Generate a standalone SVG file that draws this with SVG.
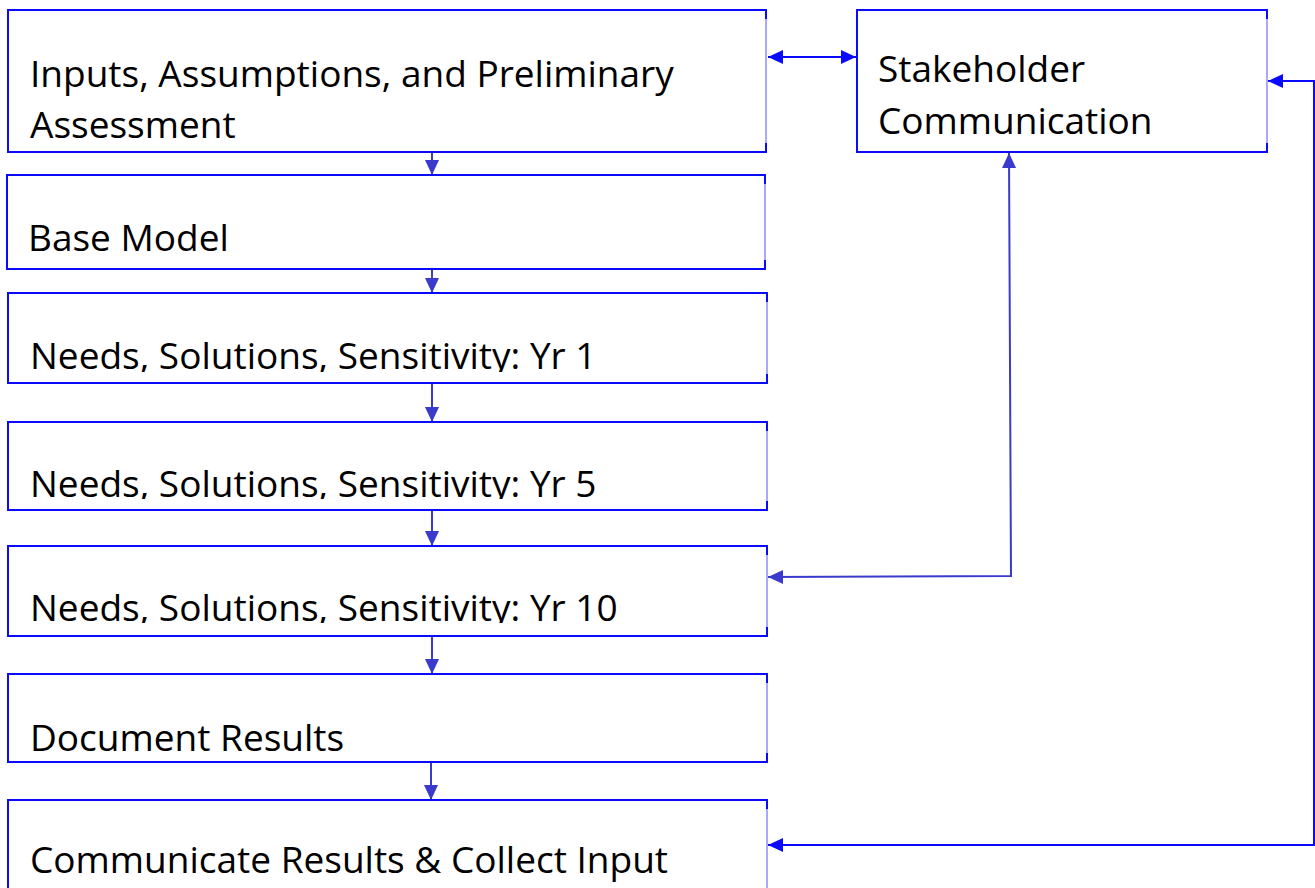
<svg xmlns="http://www.w3.org/2000/svg" width="1315" height="888" viewBox="0 0 1315 888">
<style>
.edge{fill:none;stroke:#0a0aff;stroke-width:2}
.redge{fill:none;stroke:#8c8cff;stroke-width:1.5}
.bg{fill:#ffffff}
.t{font-family:"Open Sans","Noto Sans",sans-serif;font-size:37px;fill:#000000}
.c1{fill:none;stroke:#3a3acc;stroke-width:2}
.c2{fill:none;stroke:#0a0aff;stroke-width:2}
</style>
<defs>
<marker id="ah1" markerUnits="userSpaceOnUse" markerWidth="18" markerHeight="18" viewBox="0 0 18 18" refX="16" refY="9" orient="auto-start-reverse">
<path d="M1,2 L16,9 L1,16 Z" fill="#3a3acc"/>
</marker>
<marker id="ah2" markerUnits="userSpaceOnUse" markerWidth="18" markerHeight="18" viewBox="0 0 18 18" refX="16" refY="9" orient="auto-start-reverse">
<path d="M1,2 L16,9 L1,16 Z" fill="#0a0aff"/>
</marker>
<clipPath id="cl3"><rect x="0" y="290" width="780" height="82"/></clipPath>
<clipPath id="cl4"><rect x="0" y="420" width="780" height="79"/></clipPath>
<clipPath id="cl5"><rect x="0" y="540" width="780" height="83"/></clipPath>
</defs>
<rect width="1315" height="888" fill="#ffffff"/>

<g id="connectors">
<line class="c1" x1="432" y1="153" x2="432" y2="175" marker-end="url(#ah1)"/>
<line class="c1" x1="432" y1="270" x2="432" y2="293" marker-end="url(#ah1)"/>
<line class="c1" x1="432" y1="384" x2="432" y2="422" marker-end="url(#ah1)"/>
<line class="c1" x1="432" y1="510" x2="432" y2="546" marker-end="url(#ah1)"/>
<line class="c1" x1="432" y1="636" x2="432" y2="674" marker-end="url(#ah1)"/>
<line class="c1" x1="431" y1="763" x2="431" y2="800" marker-end="url(#ah1)"/>
<line class="c2" x1="768" y1="57" x2="856" y2="57" marker-start="url(#ah2)" marker-end="url(#ah2)"/>
<polyline class="c1" points="768,577 1011,576 1009,153" marker-start="url(#ah1)" marker-end="url(#ah1)"/>
<polyline class="c2" points="768,845 1314,845 1314,81 1268,81" marker-start="url(#ah2)" marker-end="url(#ah2)"/>
</g>

<g id="n1">
<rect class="bg" x="8" y="10" width="758" height="142"/>
<line class="redge" x1="766" y1="10" x2="766" y2="152"/>
<path class="edge" d="M766,19 V10 H8 V152 H766 V143"/>
<text class="t" x="30" y="87">Inputs, Assumptions, and Preliminary</text>
<text class="t" x="30" y="138">Assessment</text>
</g>

<g id="n2">
<rect class="bg" x="7" y="175" width="758" height="94"/>
<line class="redge" x1="765" y1="175" x2="765" y2="269"/>
<path class="edge" d="M765,184 V175 H7 V269 H765 V260"/>
<text class="t" x="28" y="251">Base Model</text>
</g>

<g id="n3">
<rect class="bg" x="8" y="293" width="759" height="90"/>
<line class="redge" x1="767" y1="293" x2="767" y2="383"/>
<path class="edge" d="M767,302 V293 H8 V383 H767 V374"/>
<text class="t" x="30" y="369" clip-path="url(#cl3)">Needs, Solutions, Sensitivity: Yr 1</text>
</g>

<g id="n4">
<rect class="bg" x="8" y="422" width="759" height="88"/>
<line class="redge" x1="767" y1="422" x2="767" y2="510"/>
<path class="edge" d="M767,431 V422 H8 V510 H767 V501"/>
<text class="t" x="30" y="497" clip-path="url(#cl4)">Needs, Solutions, Sensitivity: Yr 5</text>
</g>

<g id="n5">
<rect class="bg" x="8" y="546" width="759" height="90"/>
<line class="redge" x1="767" y1="546" x2="767" y2="636"/>
<path class="edge" d="M767,555 V546 H8 V636 H767 V627"/>
<text class="t" x="30" y="621" clip-path="url(#cl5)">Needs, Solutions, Sensitivity: Yr 10</text>
</g>

<g id="n6">
<rect class="bg" x="8" y="674" width="759" height="88"/>
<line class="redge" x1="767" y1="674" x2="767" y2="762"/>
<path class="edge" d="M767,683 V674 H8 V762 H767 V753"/>
<text class="t" x="30" y="751">Document Results</text>
</g>

<g id="n7">
<rect class="bg" x="8" y="800" width="759" height="100"/>
<line class="redge" x1="767" y1="800" x2="767" y2="888"/>
<path class="edge" d="M767,809 V800 H8 V900"/>
<text class="t" x="30" y="873">Communicate Results &amp; Collect Input</text>
</g>

<g id="n8">
<rect class="bg" x="857" y="10" width="410" height="142"/>
<line class="redge" x1="1267" y1="10" x2="1267" y2="152"/>
<path class="edge" d="M1267,19 V10 H857 V152 H1267 V143"/>
<text class="t" x="878" y="82">Stakeholder</text>
<text class="t" x="878" y="134">Communication</text>
</g>
</svg>
